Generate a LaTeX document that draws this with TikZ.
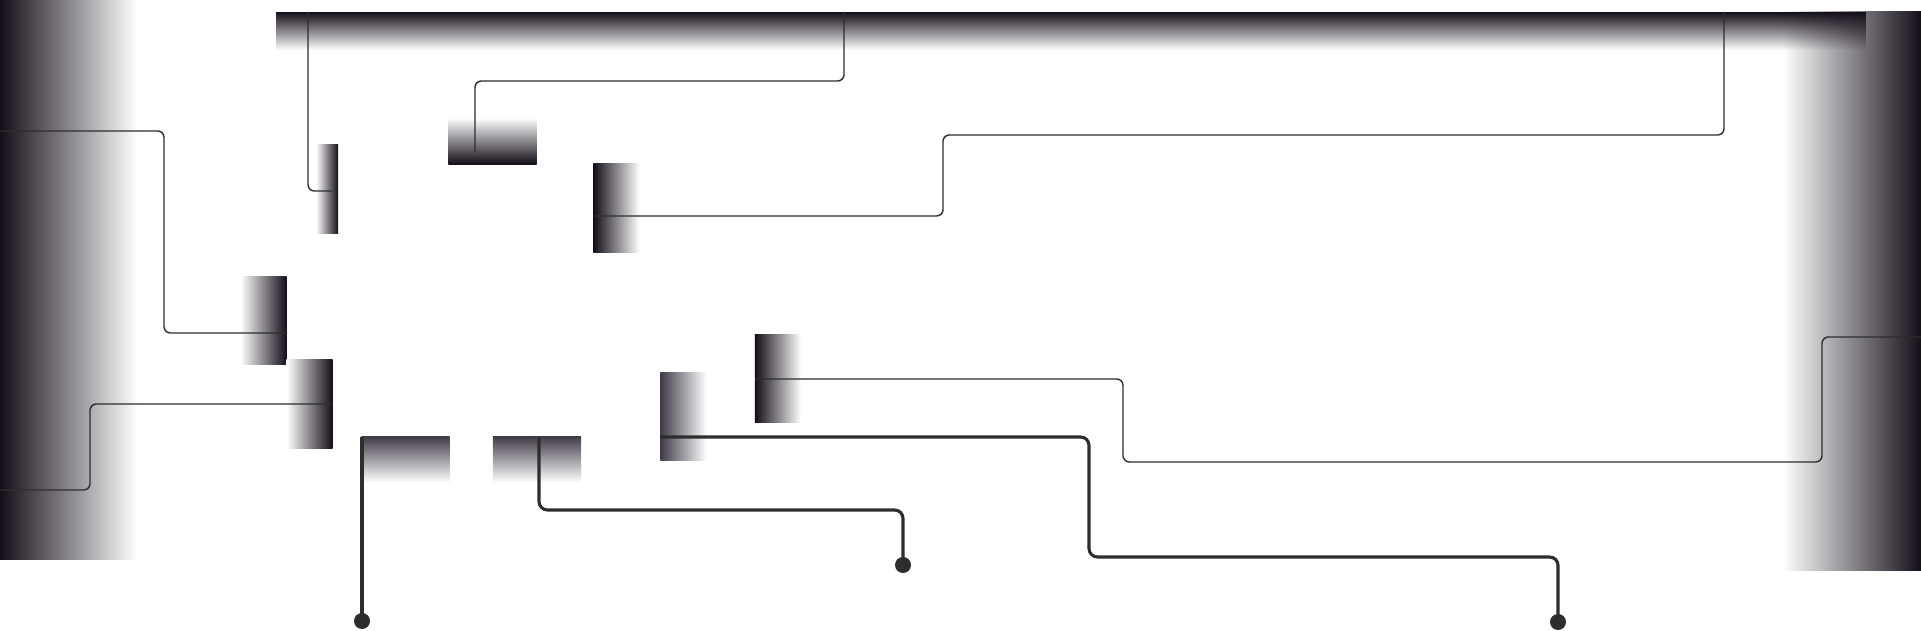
\documentclass[tikz,border=0pt]{standalone}
\usetikzlibrary{fadings}
\definecolor{ink}{RGB}{20,14,24}
\definecolor{inkmid}{RGB}{66,60,72}
\definecolor{wire}{RGB}{45,45,45}
\tikzfading[name=fadedown, top color=transparent!0, bottom color=transparent!100]
\tikzset{
  bar/.style={inner sep=0pt, outer sep=0pt, draw=none},
  blk/.style={inner sep=0pt, outer sep=0pt, draw=none},
  tallblk/.style={blk, minimum width=0.46cm, minimum height=0.88cm},
  wideblk/.style={blk, minimum width=0.88cm, minimum height=0.46cm},
  thinwire/.style={draw=wire, line width=0.4pt, rounded corners=1.8pt},
  thickwire/.style={draw=wire, line width=0.88pt, rounded corners=2.4pt},
  enddot/.style={circle, fill=wire, draw=none, inner sep=0pt, minimum size=0.16cm},
}
\begin{document}
\begin{tikzpicture}[x=0.01cm, y=-0.01cm]
\useasboundingbox (0,0) rectangle (1921,631);

% large bars
\node[bar, minimum width=1.38cm, minimum height=5.58cm, left color=white, right color=ink] (RB) at (1852,291) {};
\node[bar, minimum width=1.37cm, minimum height=5.59cm, left color=ink, right color=white] (LB) at (68.5,279.5) {};
\node[bar, minimum width=15.90cm, minimum height=0.38cm, fill=ink, path fading=fadedown] (TB) at (1072,31) {};

% small blocks
\node[blk, minimum width=0.22cm, minimum height=0.88cm, left color=white, right color=ink] (A) at (327,189) {};
\node[wideblk, top color=white, bottom color=ink] (B) at (492.5,141) {};
\node[tallblk, left color=ink, right color=white] (C) at (616.5,208) {};
\node[tallblk, left color=white, right color=ink] (D) at (263.5,320.5) {};
\node[tallblk, left color=white, right color=ink] (E) at (309.5,404) {};
\node[wideblk, top color=inkmid, bottom color=white] (F) at (405.5,459.5) {};
\node[wideblk, top color=inkmid, bottom color=white] (G) at (537,459.5) {};
\node[tallblk, left color=inkmid, right color=white] (H) at (683.5,416.5) {};
\node[tallblk, left color=ink, right color=white] (I) at (778,378.5) {};

% connector end points on the bars
\coordinate (l1s) at (308,12);
\coordinate (l2s) at (844,12);
\coordinate (l3s) at (1724,12);
\coordinate (l4s) at (0,131);
\coordinate (l5s) at (0,490);
\coordinate (l6s) at (1921,337);
\coordinate (l1e) at (332,191);
\coordinate (l2e) at (475,153);
\coordinate (l3e) at (593,216);
\coordinate (l4e) at (287,333);
\coordinate (l5e) at (332,404);
\coordinate (l6e) at (755,379);
\coordinate (t1s) at (362,437);
\coordinate (t2s) at (539,437);
\coordinate (t3s) at (660,437);

% thin connectors
\draw[thinwire] (l1s) -- (308,191) -- (l1e);
\draw[thinwire] (l2s) -- (844,81) -- (475,81) -- (l2e);
\draw[thinwire] (l3s) -- (1724,135) -- (943,135) -- (943,216) -- (l3e);
\draw[thinwire] (l4s) -- (164,131) -- (164,333) -- (l4e);
\draw[thinwire] (l5s) -- (90,490) -- (90,404) -- (l5e);
\draw[thinwire] (l6s) -- (1822,337) -- (1822,462) -- (1123,462) -- (1123,379) -- (l6e);

% terminals
\node[enddot] (d1) at (362,621) {};
\node[enddot] (d2) at (903,565) {};
\node[enddot] (d3) at (1558,622) {};

% thick connectors
\draw[thickwire] (t1s) -- (d1.center);
\draw[thickwire] (t2s) -- (539,510) -- (903,510) -- (d2.center);
\draw[thickwire] (t3s) -- (1089,437) -- (1089,557) -- (1558,557) -- (d3.center);
\end{tikzpicture}
\end{document}
